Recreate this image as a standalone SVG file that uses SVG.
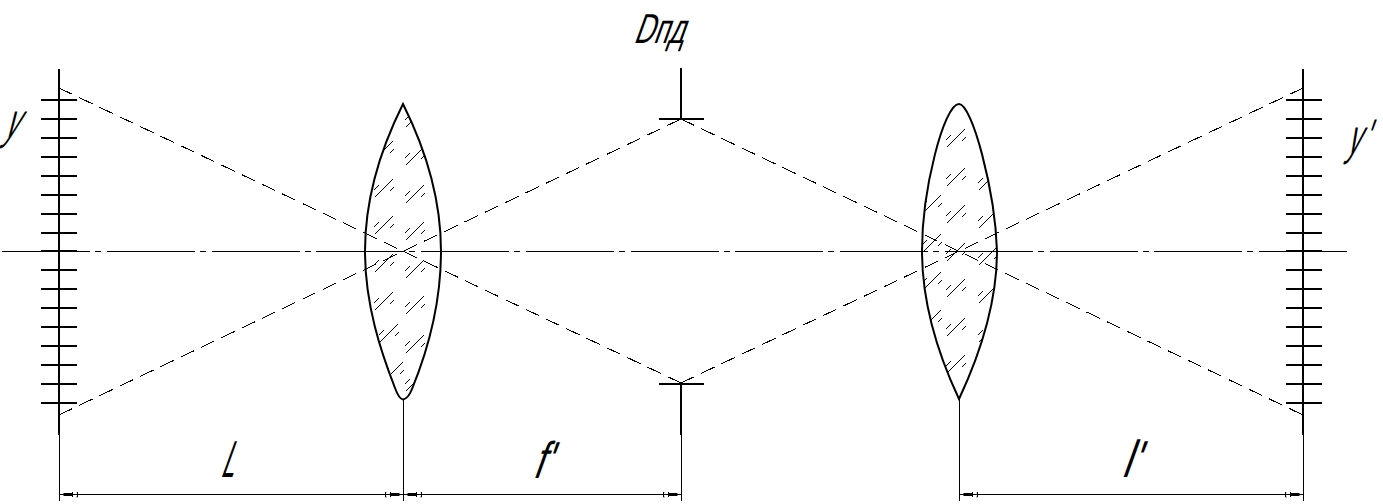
<svg xmlns="http://www.w3.org/2000/svg" width="1383" height="504" viewBox="0 0 1383 504">
<style>
.thick{stroke:#000;stroke-width:2;fill:none}
.thin{stroke:#000;stroke-width:1;fill:none;shape-rendering:crispEdges}
.ray{stroke:#000;stroke-width:1;fill:none;stroke-dasharray:14.7 7.76;shape-rendering:crispEdges}
.axis{stroke:#000;stroke-width:1;fill:none;stroke-dasharray:88 5 6 5.75;shape-rendering:crispEdges}
.hatch{stroke:#000;stroke-width:1;fill:none;shape-rendering:crispEdges}
.dim{stroke:#000;stroke-width:1;fill:none;shape-rendering:crispEdges;marker-start:url(#arrow);marker-end:url(#arrow)}
text{font-family:"Liberation Sans","DejaVu Sans",sans-serif;fill:#000}
.big{font-size:52px}
.sym{font-size:50px}
</style>
<defs>
<marker id="arrow" markerUnits="userSpaceOnUse" viewBox="0 0 20 6" refX="20" refY="3" markerWidth="20" markerHeight="6" orient="auto-start-reverse">
<rect x="7" y="1.5" width="9" height="3" fill="#000"/>
<path d="M2 0.5V5.5M7 0.5V5.5M2 0.5H3M2 5.5H3" stroke="#000" stroke-width="1" fill="none"/>
</marker>
<g id="h">
<path d="M0 0L18 -18M-1 -7L4 -12M15 -6L19 -10"/>
</g>
<path id="lens1" d="M403 104C380 150 365 200 365 251C365 305 381 352 395 388Q399 399 403 399.5Q408 399 412 389C428 350 441 305 441 251C441 200 426 150 403 104Z"/>
<path id="lens2" d="M959 399C936 350 922 300 922 251C922 190 944 104 959 104C972 104 995 190 997 251C997 300 982 350 959 399Z"/>
<clipPath id="c1"><use href="#lens1"/></clipPath>
<clipPath id="c2"><use href="#lens2"/></clipPath>
<path id="ticks" d="M-18 100H18M-18 119H18M-18 138H18M-18 157H18M-18 176H18M-18 195H18M-18 214H18M-18 233H18M-18 251H18M-18 270H18M-18 289H18M-18 308H18M-18 327H18M-18 346H18M-18 365H18M-18 384H18M-18 403H18"/>
</defs>
<rect width="1383" height="504" fill="#fff"/>
<g id="connectors">
<path class="axis" d="M2 251.5H1348"/>
<path class="ray" d="M59 88L681 383"/>
<path class="ray" d="M59 415L681 119"/>
<path class="ray" d="M681 119L1303 415"/>
<path class="ray" d="M681 383L1303 88"/>
<path class="thin" d="M59.5 435V501M403.5 399V501M681.5 435V501M959.5 399V501M1303.5 435V501"/>
<path class="dim" d="M59.5 494.5H403.5"/>
<path class="dim" d="M403.5 494.5H681.5"/>
<path class="dim" d="M959.5 494.5H1303.5"/>
</g>
<g id="object-scale">
<path class="thick" d="M59 69V435"/>
<use class="thick" href="#ticks" x="59"/>
<text class="sym" transform="matrix(.5 0 -.45 1 3 138)">y</text>
</g>
<g id="lens-1">
<g class="hatch" clip-path="url(#c1)">
<use href="#h" x="375" y="121"/><use href="#h" x="375" y="159"/><use href="#h" x="375" y="197"/><use href="#h" x="375" y="234"/><use href="#h" x="375" y="272"/><use href="#h" x="375" y="310"/><use href="#h" x="380" y="342"/><use href="#h" x="385" y="380"/>
<use href="#h" x="406" y="127"/><use href="#h" x="406" y="165"/><use href="#h" x="406" y="203"/><use href="#h" x="406" y="240"/><use href="#h" x="406" y="278"/><use href="#h" x="406" y="314"/><use href="#h" x="406" y="353"/><use href="#h" x="406" y="391"/>
</g>
<use class="thick" href="#lens1"/>
</g>
<g id="aperture-stop">
<path class="thick" d="M681 68V119M659 119H704M659 384H704M681 384V435"/>
<text transform="matrix(.65 0 -.36 1 633 43)" font-size="42">Dпд</text>
</g>
<g id="lens-2">
<g class="hatch" clip-path="url(#c2)">
<use href="#h" x="947" y="147"/><use href="#h" x="947" y="186"/><use href="#h" x="947" y="223"/><use href="#h" x="947" y="261"/><use href="#h" x="947" y="297"/><use href="#h" x="947" y="336"/><use href="#h" x="947" y="373"/>
<use href="#h" x="979" y="190"/><use href="#h" x="979" y="228"/><use href="#h" x="979" y="265"/><use href="#h" x="979" y="303"/><use href="#h" x="979" y="342"/>
<use href="#h" x="923" y="213"/><use href="#h" x="923" y="252"/><use href="#h" x="923" y="290"/><use href="#h" x="923" y="328"/>
</g>
<use class="thick" href="#lens2"/>
</g>
<g id="image-scale">
<path class="thick" d="M1303 69V435"/>
<use class="thick" href="#ticks" x="1304"/>
<text class="sym" transform="matrix(.5 0 -.36 1 1346 154)">y<tspan dx="5">'</tspan></text>
</g>
<g id="dimension-labels">
<text class="big" transform="matrix(.45 0 -.36 1 220 477)">L</text>
<text class="big" transform="matrix(.7 0 -.36 1 532 478)">f'</text>
<text class="big" transform="matrix(.75 0 -.36 1 1121 477)">l'</text>
</g>
</svg>
